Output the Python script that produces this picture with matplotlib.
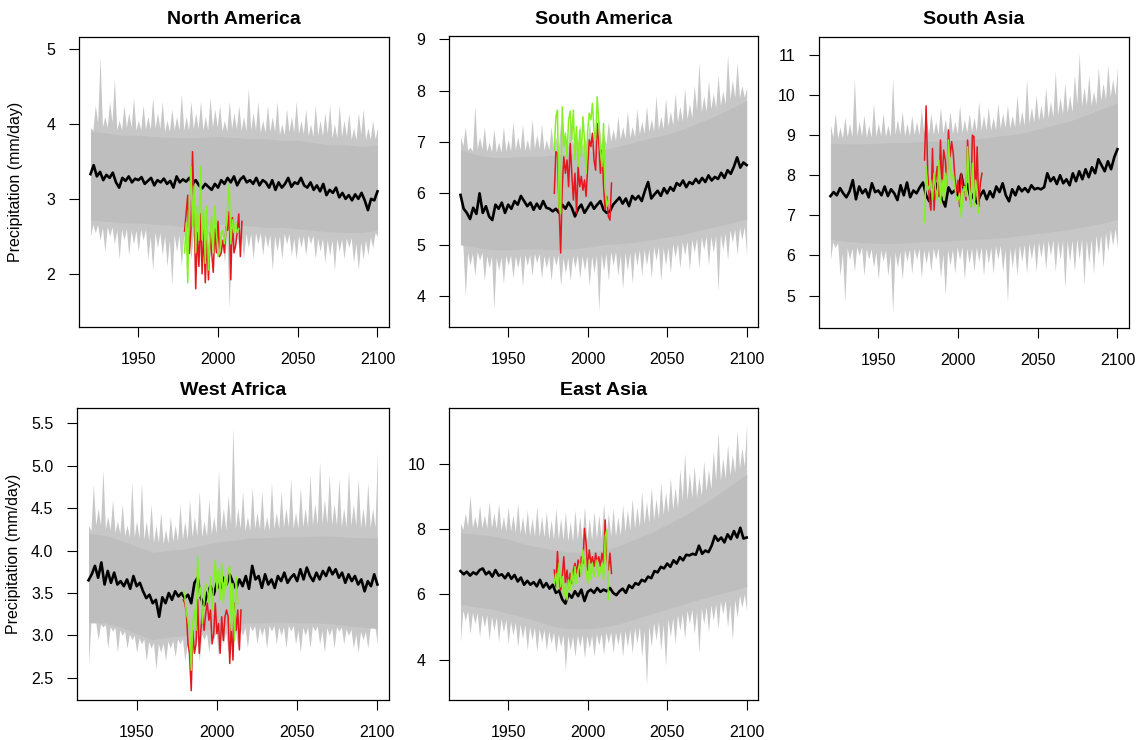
import numpy as np
import matplotlib
matplotlib.use("Agg")
from matplotlib import pyplot as plt

plt.rcParams['font.family'] = ['Liberation Sans', 'DejaVu Sans']

# year grids the values were read on
yrs_mean = np.arange(1920, 2101, 2)
yrs_env = np.arange(1920, 2101, 3)
yrs_core = np.arange(1920, 2101, 10)
yrs_red = np.arange(1979, 2016)
yrs_green = np.arange(1979, 2014)

# ---- North America
na_mean = [3.33, 3.45, 3.30, 3.36, 3.25, 3.32, 3.28, 3.35, 3.22, 3.15, 3.28, 3.24, 3.30, 3.22, 3.27,
           3.25, 3.29, 3.20, 3.24, 3.28, 3.18, 3.25, 3.22, 3.27, 3.20, 3.24, 3.15, 3.30, 3.22, 3.26,
           3.23, 3.28, 3.20, 3.25, 3.18, 3.14, 3.20, 3.16, 3.12, 3.20, 3.15, 3.25, 3.20, 3.28, 3.22,
           3.30, 3.18, 3.26, 3.30, 3.22, 3.25, 3.20, 3.28, 3.18, 3.25, 3.22, 3.15, 3.25, 3.12, 3.22,
           3.15, 3.20, 3.28, 3.16, 3.22, 3.20, 3.28, 3.18, 3.15, 3.22, 3.12, 3.18, 3.10, 3.20, 3.05,
           3.12, 3.08, 3.15, 3.02, 3.08, 3.00, 3.05, 2.98, 3.06, 3.00, 3.08, 2.98, 2.85, 3.00, 2.98, 3.10]
na_hi = [3.95, 4.25, 4.90, 4.10, 4.30, 4.60, 4.05, 4.25, 4.15, 4.35, 4.05, 4.25, 4.10, 4.35, 4.15,
         4.30, 4.05, 4.20, 4.10, 4.40, 4.10, 4.30, 4.15, 4.30, 4.10, 4.35, 4.20, 4.25, 4.05, 4.30,
         4.15, 4.25, 4.10, 4.48, 4.15, 4.30, 4.05, 4.25, 4.10, 4.30, 4.00, 4.20, 4.10, 4.30, 4.05,
         4.20, 4.00, 4.25, 4.05, 4.15, 4.25, 4.00, 4.25, 4.05, 4.15, 3.95, 4.15, 4.20, 3.95, 4.05, 3.95]
na_lo = [2.50, 2.55, 2.45, 2.30, 2.50, 2.40, 2.20, 2.45, 2.25, 2.40, 2.30, 2.45, 2.20, 2.05, 2.35,
         2.25, 2.10, 1.85, 2.30, 2.10, 2.35, 2.20, 2.30, 2.15, 2.35, 2.20, 2.30, 2.25, 2.15, 1.55,
         2.25, 2.35, 2.20, 2.35, 2.20, 2.40, 2.25, 2.35, 2.05, 2.30, 2.20, 2.40, 2.25, 2.20, 2.35,
         2.25, 2.40, 2.20, 2.30, 2.15, 2.25, 2.05, 2.30, 2.20, 2.35, 2.15, 2.05, 2.20, 2.25, 2.35, 2.50]
na_core_hi = [3.90, 3.88, 3.85, 3.85, 3.83, 3.82, 3.82, 3.82, 3.83, 3.82, 3.80, 3.80, 3.78, 3.78,
              3.75, 3.72, 3.72, 3.70, 3.72]
na_core_lo = [2.72, 2.70, 2.68, 2.68, 2.66, 2.65, 2.62, 2.64, 2.66, 2.65, 2.64, 2.62, 2.62, 2.60,
              2.58, 2.56, 2.55, 2.55, 2.58]
na_red = [2.57, 2.81, 3.05, 2.27, 2.58, 3.63, 2.90, 1.80, 2.55, 2.10, 2.80, 2.00, 2.58, 1.88, 2.45,
          1.92, 2.55, 2.28, 2.02, 2.60, 2.28, 2.70, 2.23, 2.28, 2.45, 2.28, 2.63, 2.58, 2.83, 1.92,
          2.75, 2.28, 2.37, 2.55, 2.80, 2.23, 2.70]
na_green = [2.28, 2.68, 1.88, 2.99, 3.43, 2.63, 3.17, 2.28, 2.90, 2.45, 3.43, 2.45, 2.85, 2.14, 2.90,
            2.05, 2.55, 2.77, 2.28, 2.90, 2.55, 2.23, 2.28, 2.55, 2.58, 2.40, 2.58, 2.90, 3.20, 2.40,
            2.72, 2.55, 2.68, 2.55, 2.60]

# ---- South America
sam_mean = [5.97, 5.70, 5.62, 5.50, 5.72, 5.60, 6.00, 5.62, 5.75, 5.55, 5.48, 5.78, 5.70, 5.82, 5.62,
            5.78, 5.70, 5.85, 5.78, 5.95, 5.85, 5.75, 5.82, 5.68, 5.80, 5.70, 5.85, 5.72, 5.70, 5.65,
            5.70, 5.62, 5.78, 5.70, 5.82, 5.72, 5.55, 5.70, 5.78, 5.62, 5.72, 5.82, 5.70, 5.78, 5.85,
            5.68, 5.62, 5.65, 5.78, 5.85, 5.92, 5.80, 5.90, 5.75, 5.95, 5.88, 5.95, 5.85, 6.05, 6.22,
            5.90, 5.98, 6.05, 5.95, 6.10, 6.00, 6.12, 6.05, 6.20, 6.15, 6.25, 6.12, 6.22, 6.18, 6.28,
            6.20, 6.30, 6.22, 6.35, 6.25, 6.32, 6.28, 6.40, 6.30, 6.45, 6.38, 6.52, 6.70, 6.50, 6.60, 6.55]
sam_hi = [7.10, 7.30, 6.90, 7.70, 7.10, 7.30, 7.00, 7.25, 7.00, 7.30, 7.05, 7.40, 7.10, 7.35, 7.05,
          7.45, 7.15, 7.35, 7.05, 7.30, 7.10, 7.40, 7.15, 7.50, 7.20, 7.35, 7.10, 7.40, 7.20, 7.45,
          7.15, 7.40, 7.25, 7.50, 7.30, 7.60, 7.30, 7.65, 7.40, 7.70, 7.45, 7.90, 7.50, 7.85, 7.60,
          7.95, 7.70, 8.05, 7.75, 8.10, 8.55, 7.90, 8.20, 7.95, 8.30, 8.00, 8.70, 8.20, 8.55, 8.10, 8.05]
sam_lo = [5.00, 4.00, 4.60, 4.40, 4.70, 4.30, 4.55, 3.75, 4.50, 4.25, 4.60, 4.35, 4.55, 4.20, 4.60,
          4.40, 4.65, 4.35, 4.55, 4.30, 4.60, 4.20, 4.45, 4.30, 4.55, 4.35, 4.50, 4.20, 4.45, 3.72,
          4.50, 4.30, 4.60, 4.40, 4.15, 4.50, 4.25, 4.60, 4.40, 4.60, 4.35, 4.70, 4.30, 4.60, 4.45,
          4.75, 4.55, 4.80, 4.50, 4.85, 4.55, 4.90, 4.60, 4.85, 4.10, 4.90, 4.70, 5.05, 4.80, 5.10, 4.80]
sam_core_hi = [6.85, 6.75, 6.70, 6.70, 6.72, 6.72, 6.75, 6.78, 6.80, 6.85, 6.92, 7.00, 7.08, 7.15,
               7.25, 7.38, 7.50, 7.65, 7.80]
sam_core_lo = [5.00, 4.95, 4.90, 4.90, 4.92, 4.92, 4.90, 4.92, 4.95, 5.00, 5.02, 5.05, 5.10, 5.15,
               5.20, 5.28, 5.35, 5.42, 5.50]
sam_red = [6.00, 6.81, 6.78, 5.74, 4.84, 6.13, 6.71, 6.39, 6.65, 6.13, 6.97, 6.39, 5.87, 6.39, 5.61,
           6.52, 6.13, 6.33, 6.06, 6.26, 5.94, 6.52, 7.04, 6.91, 7.17, 6.65, 6.45, 7.36, 6.97, 6.39,
           6.84, 6.13, 5.68, 5.94, 5.55, 5.48, 6.20]
sam_green = [6.84, 7.49, 7.62, 5.74, 5.61, 7.68, 6.91, 7.17, 6.71, 7.43, 7.60, 7.04, 7.62, 6.65, 7.30,
             6.52, 7.23, 6.71, 7.49, 7.04, 6.39, 7.23, 7.56, 7.43, 7.75, 7.23, 7.04, 7.88, 7.36, 6.84,
             6.52, 7.36, 6.13, 5.74, 5.87]

# ---- South Asia
sas_mean = [7.48, 7.58, 7.50, 7.68, 7.55, 7.45, 7.60, 7.88, 7.40, 7.72, 7.55, 7.65, 7.45, 7.80, 7.58,
            7.62, 7.50, 7.72, 7.48, 7.65, 7.55, 7.38, 7.75, 7.50, 7.82, 7.45, 7.62, 7.55, 7.70, 7.82,
            7.50, 7.35, 7.65, 7.80, 7.55, 7.42, 7.22, 7.70, 7.55, 7.62, 7.50, 8.02, 7.60, 7.78, 7.40,
            7.55, 7.30, 7.50, 7.62, 7.40, 7.60, 7.45, 7.72, 7.58, 7.80, 7.50, 7.35, 7.65, 7.50, 7.72,
            7.60, 7.68, 7.58, 7.75, 7.65, 7.68, 7.65, 7.70, 8.05, 7.85, 7.95, 7.78, 8.00, 7.80, 7.90,
            7.75, 8.05, 7.85, 8.10, 7.90, 8.15, 7.95, 8.20, 8.05, 8.40, 8.25, 8.10, 8.35, 8.15, 8.45, 8.65]
sas_hi = [9.25, 9.55, 9.20, 9.45, 9.30, 10.40, 9.35, 9.50, 9.25, 9.80, 9.30, 9.55, 9.25, 10.40, 9.40,
          9.60, 9.30, 9.50, 9.35, 9.65, 9.40, 9.55, 9.35, 9.70, 9.40, 9.60, 9.35, 9.75, 9.40, 9.55,
          9.45, 9.85, 9.50, 9.70, 9.45, 9.80, 9.55, 9.75, 9.50, 10.00, 9.60, 10.40, 9.70, 10.00, 9.75,
          10.20, 9.85, 10.60, 9.95, 10.30, 10.00, 10.50, 11.05, 10.20, 10.50, 10.10, 10.70, 10.30,
          10.75, 10.40, 10.70]
sas_lo = [5.90, 6.20, 5.50, 4.85, 5.90, 5.60, 6.00, 5.50, 5.90, 5.70, 5.40, 5.85, 5.50, 4.58, 5.70,
          5.40, 5.85, 5.55, 5.90, 5.45, 5.80, 5.60, 5.90, 5.45, 5.00, 5.75, 5.55, 5.90, 5.40, 5.80,
          5.60, 5.85, 5.50, 5.80, 5.55, 5.90, 5.60, 4.85, 5.70, 5.50, 5.85, 5.55, 5.90, 5.60, 5.95,
          5.65, 6.00, 5.60, 5.90, 5.18, 5.85, 5.60, 5.90, 5.26, 5.80, 5.55, 6.00, 5.70, 6.10, 6.25, 6.20]
sas_core_hi = [8.80, 8.78, 8.78, 8.80, 8.82, 8.82, 8.85, 8.85, 8.88, 8.90, 8.95, 9.00, 9.05, 9.15,
               9.25, 9.35, 9.50, 9.65, 9.80]
sas_core_lo = [6.40, 6.35, 6.32, 6.30, 6.30, 6.32, 6.35, 6.35, 6.38, 6.40, 6.42, 6.45, 6.50, 6.55,
               6.60, 6.65, 6.72, 6.80, 6.90]
sas_red = [8.38, 9.73, 8.05, 7.38, 7.13, 8.67, 7.13, 7.88, 8.22, 7.47, 8.88, 7.72, 8.63, 8.38, 7.72,
           9.13, 8.46, 8.84, 8.55, 7.97, 7.55, 7.88, 7.22, 8.05, 7.72, 7.72, 7.38, 8.88, 8.13, 7.22,
           9.00, 8.96, 7.38, 8.71, 7.22, 7.80, 8.05]
sas_green = [6.84, 8.22, 7.63, 7.72, 7.88, 7.38, 8.05, 7.63, 7.38, 8.38, 7.30, 7.88, 7.38, 8.05, 7.72,
             8.88, 8.22, 7.88, 8.05, 7.72, 7.38, 7.38, 7.55, 6.97, 7.55, 7.72, 7.47, 8.71, 7.72, 7.22,
             8.30, 7.22, 7.88, 7.55, 7.05]

# ---- West Africa
waf_mean = [3.65, 3.72, 3.82, 3.68, 3.86, 3.60, 3.76, 3.62, 3.74, 3.60, 3.64, 3.58, 3.66, 3.55, 3.70,
            3.58, 3.62, 3.52, 3.44, 3.48, 3.38, 3.42, 3.22, 3.45, 3.38, 3.50, 3.42, 3.52, 3.46, 3.50,
            3.44, 3.48, 3.38, 3.62, 3.68, 3.44, 3.35, 3.50, 3.58, 3.48, 3.62, 3.55, 3.68, 3.60, 3.72,
            3.62, 3.55, 3.66, 3.58, 3.70, 3.55, 3.82, 3.66, 3.70, 3.56, 3.72, 3.60, 3.66, 3.56, 3.70,
            3.64, 3.74, 3.62, 3.68, 3.72, 3.64, 3.78, 3.66, 3.80, 3.70, 3.64, 3.74, 3.66, 3.76, 3.70,
            3.80, 3.72, 3.78, 3.68, 3.74, 3.62, 3.72, 3.64, 3.70, 3.60, 3.66, 3.52, 3.64, 3.58, 3.72, 3.60]
waf_hi = [4.30, 4.78, 4.50, 4.95, 4.40, 4.60, 4.35, 4.55, 4.30, 4.80, 4.35, 4.80, 4.35, 4.55, 4.30,
          4.45, 4.25, 4.40, 4.30, 4.55, 4.35, 4.60, 4.40, 4.70, 4.35, 4.60, 4.40, 4.95, 4.50, 4.65,
          5.45, 4.50, 4.70, 4.40, 4.75, 4.45, 4.70, 4.40, 4.80, 4.45, 4.70, 4.50, 4.85, 4.45, 4.75,
          4.50, 4.90, 4.55, 5.05, 4.60, 4.90, 4.55, 4.85, 4.50, 4.95, 4.55, 4.85, 4.50, 4.80, 4.50, 5.17]
waf_lo = [2.65, 3.15, 2.95, 3.10, 2.85, 3.05, 2.80, 3.00, 2.85, 2.95, 2.80, 2.90, 2.70, 2.85, 2.60,
          2.80, 2.70, 2.85, 2.75, 2.90, 2.70, 2.47, 2.85, 2.70, 2.95, 2.80, 2.95, 2.75, 2.90, 2.80,
          2.95, 2.85, 3.00, 2.85, 3.05, 2.90, 3.00, 2.85, 3.05, 2.90, 3.00, 2.85, 3.05, 2.90, 2.80,
          3.00, 2.85, 3.05, 2.90, 2.80, 3.00, 2.85, 3.05, 2.90, 3.00, 2.85, 2.80, 2.95, 2.85, 3.10, 2.90]
waf_core_hi = [4.20, 4.18, 4.12, 4.05, 3.98, 4.00, 4.02, 4.06, 4.10, 4.12, 4.15, 4.15, 4.16, 4.16,
               4.17, 4.17, 4.16, 4.15, 4.15]
waf_core_lo = [3.15, 3.15, 3.10, 3.02, 2.95, 2.98, 3.00, 3.05, 3.10, 3.12, 3.15, 3.15, 3.16, 3.15,
               3.15, 3.14, 3.12, 3.10, 3.08]
waf_red = [3.42, 3.38, 3.26, 2.90, 2.79, 2.35, 3.06, 2.79, 2.90, 3.42, 2.79, 3.06, 3.30, 3.06, 3.26,
           3.38, 3.18, 3.30, 2.90, 3.02, 3.38, 3.02, 3.14, 2.79, 3.22, 2.94, 3.22, 3.30, 3.22, 2.67,
           3.14, 2.71, 3.38, 3.06, 3.30, 2.83, 3.30]
waf_green = [3.53, 3.46, 3.26, 3.18, 3.06, 2.59, 3.14, 3.30, 3.06, 3.93, 3.46, 3.57, 3.14, 3.38, 3.61,
             3.57, 3.38, 3.69, 3.30, 3.61, 3.89, 3.53, 3.77, 3.42, 3.85, 3.38, 3.69, 3.57, 3.77, 3.81,
             3.06, 3.61, 2.94, 3.69, 3.38]

# ---- East Asia
eas_mean = [6.72, 6.62, 6.70, 6.58, 6.68, 6.62, 6.75, 6.80, 6.62, 6.70, 6.55, 6.75, 6.58, 6.62, 6.50,
            6.65, 6.48, 6.60, 6.40, 6.52, 6.30, 6.42, 6.30, 6.38, 6.25, 6.45, 6.22, 6.35, 6.18, 6.30,
            6.05, 6.12, 5.85, 5.72, 6.02, 5.90, 6.10, 5.95, 6.15, 5.80, 6.08, 6.15, 6.05, 6.20, 6.08,
            6.15, 6.10, 6.20, 6.05, 5.98, 6.10, 6.18, 6.05, 6.28, 6.20, 6.35, 6.30, 6.45, 6.40, 6.55,
            6.50, 6.72, 6.68, 6.85, 6.80, 6.95, 6.85, 7.05, 6.95, 7.15, 7.05, 7.22, 7.20, 7.25, 7.22,
            7.50, 7.25, 7.35, 7.30, 7.50, 7.80, 7.65, 7.75, 7.60, 7.85, 7.70, 7.95, 7.75, 8.05, 7.72, 7.75]
eas_hi = [8.20, 8.50, 9.05, 8.40, 8.75, 8.45, 8.85, 8.50, 8.80, 8.40, 8.70, 8.45, 8.80, 8.40, 8.60,
          8.35, 8.70, 8.40, 8.55, 8.30, 8.65, 8.35, 8.55, 8.25, 8.60, 8.40, 8.70, 8.35, 8.55, 8.45,
          8.80, 8.50, 8.65, 8.40, 8.75, 8.60, 8.95, 8.70, 9.15, 8.85, 9.30, 8.95, 9.45, 9.15, 9.60,
          9.30, 9.85, 10.35, 9.75, 9.95, 9.60, 10.10, 9.85, 10.40, 11.00, 10.20, 10.60, 10.30, 11.05,
          10.50, 11.25]
eas_lo = [4.55, 5.20, 4.80, 5.10, 4.70, 5.00, 4.60, 4.90, 4.55, 4.85, 4.50, 4.75, 4.40, 4.65, 4.30,
          4.60, 4.25, 4.55, 4.30, 4.50, 4.20, 4.40, 3.68, 4.30, 4.10, 4.40, 4.05, 4.35, 4.10, 4.45,
          4.15, 4.50, 4.20, 4.45, 4.10, 4.40, 4.20, 4.50, 4.10, 3.22, 4.40, 4.60, 4.30, 3.80, 4.70,
          4.50, 4.90, 4.65, 5.10, 4.80, 4.20, 5.10, 4.85, 5.20, 4.95, 5.40, 5.00, 4.60, 5.30, 5.60, 5.50]
eas_core_hi = [7.90, 7.85, 7.80, 7.70, 7.55, 7.45, 7.35, 7.30, 7.30, 7.35, 7.50, 7.70, 7.90, 8.15,
               8.40, 8.70, 9.00, 9.35, 9.70]
eas_core_lo = [5.70, 5.62, 5.55, 5.42, 5.30, 5.15, 5.00, 4.95, 4.95, 5.00, 5.10, 5.25, 5.40, 5.55,
               5.70, 5.85, 5.98, 6.10, 6.25]
eas_red = [6.75, 6.24, 7.32, 6.45, 6.14, 6.55, 7.16, 6.34, 6.75, 6.24, 6.65, 6.34, 6.75, 6.96, 6.65,
           7.06, 6.55, 7.16, 6.96, 8.03, 7.57, 6.75, 7.37, 6.96, 7.16, 6.86, 7.27, 6.96, 7.16, 6.86,
           7.27, 6.96, 8.29, 7.16, 6.75, 7.27, 6.65]
eas_green = [6.34, 6.65, 6.14, 6.96, 6.24, 6.55, 5.94, 6.34, 5.83, 6.45, 6.14, 6.75, 6.24, 6.86, 6.34,
             6.75, 6.96, 6.55, 7.37, 6.96, 6.75, 6.34, 7.06, 6.45, 6.96, 6.55, 6.75, 7.06, 6.55, 6.75,
             6.96, 6.45, 7.78, 7.98, 5.83]

fig = plt.figure(figsize=(11.4, 7.4), dpi=100)


def spikes(ext, core):
    # envelope edge: read extremes at the grid years, dipping back toward the dense core in between
    ext = np.asarray(ext)
    c = np.interp(yrs_env, yrs_core, core)
    xm = (yrs_env[:-1] + yrs_env[1:]) / 2
    cm = np.interp(xm, yrs_core, core)
    near = np.where(ext[0] > c[0], np.minimum(ext[:-1], ext[1:]), np.maximum(ext[:-1], ext[1:]))
    vm = cm + 0.35 * (near - cm)
    xs = np.empty(len(yrs_env) * 2 - 1)
    ys = np.empty_like(xs)
    xs[0::2], xs[1::2] = yrs_env, xm
    ys[0::2], ys[1::2] = ext, vm
    return xs, ys


def panel(pos, title, mean, hi, lo, core_hi, core_lo, red, green, ylim, yticks, ylabel_x=None, fmt=None):
    ax = fig.add_axes(pos)
    xs, top = spikes(hi, core_hi)
    xs, bot = spikes(lo, core_lo)
    ax.fill_between(xs, bot, top, color="#c7c7c7", lw=0)
    ax.fill_between(yrs_core, core_lo, core_hi, color="#bebebe", lw=0)
    ax.plot(yrs_mean, mean, color="black", lw=1.9)
    ax.plot(yrs_red, red, color="#e5161e", lw=1.1)
    ax.plot(yrs_green, green, color="#84f023", lw=1.1)
    ax.set_xlim(1912.8, 2107.2)
    ax.set_ylim(ylim)
    ax.set_xticks([1950, 2000, 2050, 2100])
    ax.set_yticks(yticks)
    if fmt:
        ax.set_yticklabels([fmt % v for v in yticks])
    ax.tick_params(direction="out", length=7, width=0.8, labelsize=11.5)
    ax.tick_params(axis="x", pad=11)
    ax.tick_params(axis="y", pad=10)
    for s in ax.spines.values():
        s.set_linewidth(0.9)
    ax.set_title(title, fontsize=14, fontweight="bold", pad=9)
    if ylabel_x is not None:
        ax.set_ylabel("Precipitation (mm/day)", fontsize=11.5)
        ax.yaxis.set_label_coords(ylabel_x, 0.5)
    return ax


panel([0.0693, 0.5581, 0.2719, 0.3919], "North America", na_mean, na_hi, na_lo, na_core_hi, na_core_lo,
      na_red, na_green, (1.29, 5.16), [2, 3, 4, 5], ylabel_x=-0.18)
panel([0.3939, 0.5581, 0.2711, 0.3932], "South America", sam_mean, sam_hi, sam_lo, sam_core_hi, sam_core_lo,
      sam_red, sam_green, (3.40, 9.06), [4, 5, 6, 7, 8, 9])
panel([0.7184, 0.5568, 0.2719, 0.3932], "South Asia", sas_mean, sas_hi, sas_lo, sas_core_hi, sas_core_lo,
      sas_red, sas_green, (4.19, 11.45), [5, 6, 7, 8, 9, 10, 11])
panel([0.0675, 0.0541, 0.2737, 0.3946], "West Africa", waf_mean, waf_hi, waf_lo, waf_core_hi, waf_core_lo,
      waf_red, waf_green, (2.24, 5.68), [2.5, 3.0, 3.5, 4.0, 4.5, 5.0, 5.5], ylabel_x=-0.18, fmt="%.1f")
panel([0.3939, 0.0541, 0.2711, 0.3946], "East Asia", eas_mean, eas_hi, eas_lo, eas_core_hi, eas_core_lo,
      eas_red, eas_green, (2.76, 11.73), [4, 6, 8, 10])

fig.savefig("out.png", dpi=100)
